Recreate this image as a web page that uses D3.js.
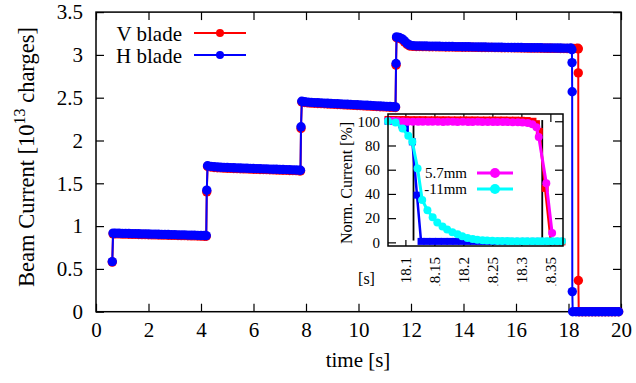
<!DOCTYPE html>
<html><head><meta charset="utf-8">
<script src="https://cdn.jsdelivr.net/npm/d3@7"></script>
<style>body{margin:0;background:#fff} svg{display:block} text{font-family:"Liberation Serif","Times New Roman",serif;fill:#000}</style>
</head><body><svg id="c" width="636" height="383"></svg>
<script>
// ---------- data ----------
const xTicks = [0,2,4,6,8,10,12,14,16,18,20];
const yTicks = [0,0.5,1,1.5,2,2.5,3,3.5];
const yTickLabels = ["0","0.5","1","1.5","2","2.5","3","3.5"];

// H blade (blue): [time s, beam current 1e13 charges]
const hBlade = [
 [0.62,0.585],
 [0.65,0.918],[0.75,0.917],[0.875,0.917],[1.0,0.915],[1.125,0.915],[1.25,0.913],[1.375,0.912],[1.5,0.912],[1.625,0.910],[1.75,0.909],[1.875,0.909],[2.0,0.907],[2.125,0.906],[2.25,0.906],[2.375,0.904],[2.5,0.903],[2.625,0.903],[2.75,0.901],[2.875,0.900],[3.0,0.900],[3.125,0.898],[3.25,0.897],[3.375,0.897],[3.5,0.895],[3.625,0.894],[3.75,0.894],[3.875,0.892],[4.0,0.891],[4.125,0.890],[4.2,0.889],
 [4.22,1.42],
 [4.25,1.705],[4.375,1.698],[4.5,1.693],[4.625,1.690],[4.75,1.688],[4.875,1.686],[5.0,1.684],[5.125,1.683],[5.25,1.681],[5.375,1.680],[5.5,1.678],[5.625,1.677],[5.75,1.676],[5.875,1.674],[6.0,1.673],[6.125,1.672],[6.25,1.670],[6.375,1.669],[6.5,1.668],[6.625,1.666],[6.75,1.665],[6.875,1.664],[7.0,1.662],[7.125,1.661],[7.25,1.660],[7.375,1.658],[7.5,1.657],[7.625,1.656],[7.75,1.654],[7.79,1.653],
 [7.81,2.16],
 [7.84,2.458],[7.95,2.452],[8.075,2.448],[8.2,2.445],[8.325,2.443],[8.45,2.441],[8.575,2.439],[8.7,2.437],[8.825,2.435],[8.95,2.433],[9.075,2.431],[9.2,2.429],[9.325,2.427],[9.45,2.425],[9.575,2.423],[9.7,2.421],[9.825,2.419],[9.95,2.417],[10.075,2.415],[10.2,2.413],[10.325,2.411],[10.45,2.409],[10.575,2.407],[10.7,2.405],[10.825,2.403],[10.95,2.401],[11.075,2.399],[11.2,2.397],[11.325,2.395],[11.41,2.393],
 [11.43,2.90],
 [11.45,3.21],[11.55,3.205],[11.65,3.19],[11.75,3.165],[11.85,3.135],[11.95,3.115],
 [12.075,3.108],[12.2,3.106],[12.325,3.105],[12.45,3.104],[12.575,3.104],[12.7,3.103],[12.825,3.102],[12.95,3.101],[13.075,3.101],[13.2,3.100],[13.325,3.099],[13.45,3.099],[13.575,3.098],[13.7,3.097],[13.825,3.097],[13.95,3.096],[14.075,3.095],[14.2,3.095],[14.325,3.094],[14.45,3.094],[14.575,3.093],[14.7,3.092],[14.825,3.092],[14.95,3.091],[15.075,3.091],[15.2,3.090],[15.325,3.089],[15.45,3.089],[15.575,3.088],[15.7,3.088],[15.825,3.087],[15.95,3.087],[16.075,3.086],[16.2,3.086],[16.325,3.085],[16.45,3.085],[16.575,3.084],[16.7,3.084],[16.825,3.083],[16.95,3.083],[17.075,3.082],[17.2,3.082],[17.325,3.081],[17.45,3.081],[17.575,3.080],[17.7,3.080],[17.825,3.079],[17.95,3.079],[18.075,3.078],[18.1,3.078],
 [18.13,3.06],[18.135,2.91],[18.14,2.57],[18.145,0.235],
 [18.16,0],[18.285,0],[18.41,0],[18.535,0],[18.66,0],[18.785,0],[18.91,0],[19.035,0],[19.16,0],[19.285,0],[19.41,0],[19.535,0],[19.66,0],[19.785,0],[19.91,0]
];
// V blade (red)
const vBlade = [
 [0.62,0.58],
 [0.65,0.910],[0.75,0.909],[0.875,0.909],[1.0,0.907],[1.125,0.907],[1.25,0.905],[1.375,0.904],[1.5,0.904],[1.625,0.902],[1.75,0.901],[1.875,0.901],[2.0,0.899],[2.125,0.898],[2.25,0.898],[2.375,0.896],[2.5,0.895],[2.625,0.895],[2.75,0.893],[2.875,0.892],[3.0,0.892],[3.125,0.890],[3.25,0.889],[3.375,0.889],[3.5,0.887],[3.625,0.886],[3.75,0.886],[3.875,0.884],[4.0,0.883],[4.125,0.882],[4.2,0.881],
 [4.22,1.40],
 [4.25,1.697],[4.375,1.690],[4.5,1.685],[4.625,1.682],[4.75,1.680],[4.875,1.678],[5.0,1.676],[5.125,1.675],[5.25,1.673],[5.375,1.672],[5.5,1.670],[5.625,1.669],[5.75,1.668],[5.875,1.666],[6.0,1.665],[6.125,1.664],[6.25,1.662],[6.375,1.661],[6.5,1.660],[6.625,1.658],[6.75,1.657],[6.875,1.656],[7.0,1.654],[7.125,1.653],[7.25,1.652],[7.375,1.650],[7.5,1.649],[7.625,1.648],[7.75,1.646],[7.79,1.645],
 [7.81,2.14],
 [7.84,2.450],[7.95,2.444],[8.075,2.440],[8.2,2.437],[8.325,2.435],[8.45,2.433],[8.575,2.431],[8.7,2.429],[8.825,2.427],[8.95,2.425],[9.075,2.423],[9.2,2.421],[9.325,2.419],[9.45,2.417],[9.575,2.415],[9.7,2.413],[9.825,2.411],[9.95,2.409],[10.075,2.407],[10.2,2.405],[10.325,2.403],[10.45,2.401],[10.575,2.399],[10.7,2.397],[10.825,2.395],[10.95,2.393],[11.075,2.391],[11.2,2.389],[11.325,2.387],[11.41,2.385],
 [11.43,2.88],
 [11.45,3.20],[11.55,3.195],[11.65,3.18],[11.75,3.152],[11.85,3.122],[11.95,3.104],
 [12.075,3.100],[12.2,3.099],[12.325,3.098],[12.45,3.097],[12.575,3.097],[12.7,3.096],[12.825,3.095],[12.95,3.095],[13.075,3.094],[13.2,3.094],[13.325,3.093],[13.45,3.093],[13.575,3.092],[13.7,3.091],[13.825,3.091],[13.95,3.090],[14.075,3.090],[14.2,3.089],[14.325,3.089],[14.45,3.088],[14.575,3.088],[14.7,3.087],[14.825,3.087],[14.95,3.086],[15.075,3.086],[15.2,3.085],[15.325,3.085],[15.45,3.084],[15.575,3.084],[15.7,3.083],[15.825,3.083],[15.95,3.082],[16.075,3.082],[16.2,3.081],[16.325,3.081],[16.45,3.080],[16.575,3.080],[16.7,3.079],[16.825,3.079],[16.95,3.078],[17.075,3.078],[17.2,3.077],[17.325,3.077],[17.45,3.076],[17.575,3.076],[17.7,3.075],[17.825,3.075],[17.95,3.074],[18.075,3.074],[18.2,3.075],[18.3,3.076],[18.36,3.077],
 [18.37,3.07],[18.372,2.79],[18.375,0.365],
 [18.39,0],[18.515,0],[18.64,0],[18.765,0],[18.89,0],[19.015,0],[19.14,0],[19.265,0],[19.39,0],[19.515,0],[19.64,0],[19.765,0],[19.91,0]
];

// inset (normalized current %)
const insetXTicks = [18.1,18.15,18.2,18.25,18.3,18.35];
const insetYTicks = [0,20,40,60,80,100];
const insetMarkT = [18.114, 18.336];   // vertical black markers

const redIn = [
 [18.07,101.5],[18.08,101.5],[18.09,101.4],[18.10,101.4],[18.11,101.3],[18.12,101.3],[18.13,101.3],[18.14,101.2],[18.15,101.2],[18.16,101.2],[18.17,101.2],[18.18,101.1],[18.19,101.1],[18.20,101.1],[18.21,101.1],[18.22,101.1],[18.23,101],[18.24,101],[18.25,101],[18.26,101],[18.27,101],[18.28,100.9],[18.29,100.9],[18.30,100.8],[18.31,100.6],[18.32,100],[18.326,98],
 [18.331,91.6],[18.341,44.6],[18.351,0.5],[18.361,0.4],[18.37,0.4]
];
const blueIn = [
 [18.07,100],[18.078,100],[18.086,99.5],[18.094,97],[18.100,94],[18.112,83],[18.120,39],[18.127,0.8],
 [18.137,0.8],[18.147,0.8],[18.157,0.8],[18.167,0.8],[18.177,0.8],[18.187,0.8],[18.197,0.8],[18.207,0.8],[18.217,0.8],[18.227,0.8],[18.237,0.8],[18.247,0.8],[18.257,0.8],[18.267,0.8],[18.277,0.8],[18.287,0.8],[18.297,0.8],[18.307,0.8],[18.317,0.8],[18.327,0.8],[18.337,0.8],[18.347,0.8],[18.357,0.8],[18.367,0.8]
];
const mag57 = [
 [18.070,100.5],[18.079,100.3],[18.087,100],[18.096,99.8],[18.104,99.7],[18.113,99.6],[18.122,99.6],[18.130,99.5],[18.139,99.5],[18.147,99.6],[18.156,99.5],[18.165,99.4],[18.173,99.5],[18.182,99.5],[18.190,99.4],[18.199,99.5],[18.208,99.4],[18.216,99.4],[18.225,99.5],[18.233,99.4],[18.242,99.4],[18.251,99.3],[18.259,99.4],[18.268,99.3],[18.276,99.3],[18.285,99.2],[18.294,99.2],[18.302,99],[18.311,98.5],[18.319,97.5],[18.326,95],
 [18.330,87],[18.343,48.8],[18.353,7.7]
];
const cyan11 = [
 [18.070,100],[18.083,99],[18.095,94],[18.105,88],[18.112,83],[18.121,61],[18.129,35],[18.138,26.5],[18.147,20.7],[18.155,16.5],[18.164,13.2],[18.172,10.7],[18.181,8.3],[18.190,6.6],[18.198,5],[18.207,3.6],[18.216,2.8],[18.224,2.2],[18.233,1.8],[18.241,1.5],[18.250,1.3],[18.259,1.2],[18.267,1.1],[18.276,1.1],[18.284,1],[18.293,1],[18.302,1],[18.310,1],[18.319,1],[18.328,1],[18.336,1],[18.345,1],[18.353,1],[18.362,1],[18.370,1]
];

// ---------- drawing ----------
const svg = d3.select("#c");
const FS = 21, IFS = 15;
const x = d3.scaleLinear().domain([0,20]).range([96,621]);
const y = d3.scaleLinear().domain([0,3.5]).range([311.7,12.1]);

svg.append("rect").attr("x",96).attr("y",12.1).attr("width",525).attr("height",299.6)
  .attr("fill","none").attr("stroke","#000").attr("stroke-width",1.5);

function styleAxis(g){ g.select(".domain").remove(); g.selectAll("line").attr("stroke","#000").attr("stroke-width",1.2);
  g.selectAll("text").attr("font-family","Liberation Serif").attr("fill","#000"); }

svg.append("g").attr("transform","translate(0,311.7)")
  .call(d3.axisBottom(x).tickValues(xTicks).tickSize(-8).tickPadding(10).tickFormat(d3.format("d")))
  .call(styleAxis).selectAll("text").attr("font-size",FS);
svg.append("g").attr("transform","translate(0,12.1)")
  .call(d3.axisTop(x).tickValues(xTicks).tickSize(-8).tickFormat(""))
  .call(styleAxis);
svg.append("g").attr("transform","translate(96,0)")
  .call(d3.axisLeft(y).tickValues(yTicks).tickSize(-8).tickPadding(13).tickFormat((d,i)=>yTickLabels[i]))
  .call(styleAxis).selectAll("text").attr("font-size",FS);
svg.append("g").attr("transform","translate(621,0)")
  .call(d3.axisRight(y).tickValues(yTicks).tickSize(-8).tickFormat(""))
  .call(styleAxis);

svg.append("text").attr("x",358).attr("y",367).attr("text-anchor","middle").attr("font-size",FS).text("time [s]");
const yl = svg.append("text").attr("transform","translate(34,157) rotate(-90)").attr("text-anchor","middle").attr("font-size",22.5);
yl.append("tspan").text("Beam Current [10");
yl.append("tspan").attr("font-size",16).attr("dy",-9).text("13");
yl.append("tspan").attr("dy",9).text(" charges]");

function drawSeries(data, xs, ys, color, lw, r, shape){
  const line = d3.line().x(d=>xs(d[0])).y(d=>ys(d[1]));
  svg.append("path").attr("d",line(data)).attr("fill","none").attr("stroke",color).attr("stroke-width",lw);
  if(shape==="square"){
    svg.append("g").selectAll("rect").data(data).join("rect")
      .attr("x",d=>xs(d[0])-r).attr("y",d=>ys(d[1])-r).attr("width",2*r).attr("height",2*r).attr("fill",color);
  } else {
    svg.append("g").selectAll("circle").data(data).join("circle")
      .attr("cx",d=>xs(d[0])).attr("cy",d=>ys(d[1])).attr("r",r).attr("fill",color);
  }
}
drawSeries(vBlade, x, y, "#ff0000", 2, 4.7);
drawSeries(hBlade, x, y, "#0000ff", 2, 4.7);

const legend = [["V blade","#ff0000",33],["H blade","#0000ff",55]];
legend.forEach(([t,c,ly])=>{
  svg.append("text").attr("x",182).attr("y",ly+7.5).attr("text-anchor","end").attr("font-size",FS).text(t);
  svg.append("line").attr("x1",194).attr("x2",246).attr("y1",ly).attr("y2",ly).attr("stroke",c).attr("stroke-width",2);
  svg.append("circle").attr("cx",220).attr("cy",ly).attr("r",4).attr("fill",c);
});

// ---------- inset ----------
const ix = d3.scaleLinear().domain([18.07,18.3718]).range([388,563]);
const iy = d3.scaleLinear().domain([-3,106]).range([246,114]);
svg.append("rect").attr("x",388).attr("y",114).attr("width",175).attr("height",132).attr("fill","#fff");

svg.append("defs").append("clipPath").attr("id","lblclip").append("rect").attr("x",380).attr("y",240).attr("width",200).attr("height",46);
const ixWrap = svg.append("g").attr("clip-path","url(#lblclip)");
const ixAxis = ixWrap.append("g").attr("transform","translate(0,246)")
  .call(d3.axisBottom(ix).tickValues(insetXTicks).tickSize(-8).tickFormat(d3.format("")))
  .call(styleAxis);
ixAxis.selectAll("text").attr("font-size",IFS).attr("transform","rotate(-90)")
  .attr("text-anchor","end").attr("x",-11).attr("y",0).attr("dy","0.35em");
svg.append("g").attr("transform","translate(0,114)")
  .call(d3.axisTop(ix).tickValues(insetXTicks).tickSize(-8).tickFormat("")).call(styleAxis);
svg.append("g").attr("transform","translate(388,0)")
  .call(d3.axisLeft(iy).tickValues(insetYTicks).tickSize(-8).tickPadding(8))
  .call(styleAxis).selectAll("text").attr("font-size",IFS);
svg.append("g").attr("transform","translate(563,0)")
  .call(d3.axisRight(iy).tickValues(insetYTicks).tickSize(-8).tickFormat("")).call(styleAxis);

svg.append("text").attr("x",366.5).attr("y",284).attr("text-anchor","middle").attr("font-size",IFS+1).text("[s]");
svg.append("text").attr("transform","translate(352,183) rotate(-90)").attr("text-anchor","middle").attr("font-size",16).text("Norm. Current [%]");

insetMarkT.forEach(t=>{
  svg.append("line").attr("x1",ix(t)).attr("x2",ix(t)).attr("y1",iy(101)).attr("y2",iy(1.5)).attr("stroke","#000").attr("stroke-width",1.8);
});

drawSeries(redIn, ix, iy, "#ff0000", 2.5, 3.5, "square");
drawSeries(blueIn, ix, iy, "#0000ff", 2.5, 3.5, "square");
drawSeries(mag57, ix, iy, "#ff00ff", 3, 4);
drawSeries(cyan11, ix, iy, "#00ffff", 3, 4);

svg.append("rect").attr("x",388).attr("y",114).attr("width",175).attr("height",132)
  .attr("fill","none").attr("stroke","#000").attr("stroke-width",1.5);

const ilegend = [["5.7mm","#ff00ff",173],["-11mm","#00ffff",189]];
ilegend.forEach(([t,c,ly])=>{
  svg.append("text").attr("x",467).attr("y",ly+5).attr("text-anchor","end").attr("font-size",IFS).text(t);
  svg.append("line").attr("x1",477).attr("x2",513).attr("y1",ly).attr("y2",ly).attr("stroke",c).attr("stroke-width",3);
  svg.append("circle").attr("cx",495).attr("cy",ly).attr("r",5).attr("fill",c);
});
</script></body></html>
